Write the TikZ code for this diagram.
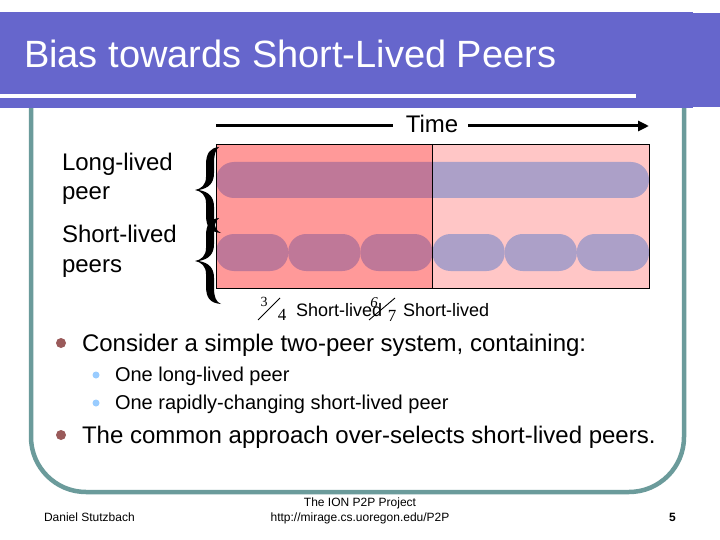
\documentclass[tikz,border=0pt]{standalone}
\usepackage{fontspec}
\setmainfont{Liberation Sans}
\newfontfamily\serifnum{Liberation Serif}
\usetikzlibrary{arrows.meta}
\definecolor{titleblue}{HTML}{6666CC}
\definecolor{framecol}{HTML}{6B9B9B}
\definecolor{pinkL}{HTML}{FF9999}
\definecolor{pinkR}{HTML}{FFC6C6}
\definecolor{barL}{HTML}{BF7898}
\definecolor{barR}{HTML}{ACA0C8}
\definecolor{bulletA}{HTML}{9A5A5A}
\definecolor{bulletB}{HTML}{99CCFF}
\tikzset{
  fs/.style={font=\fontsize{#1}{#1}\selectfont},
  bigbrace/.pic={
    \fill (24,0) .. controls (15,1) and (11,6) .. (11,18) -- (11,30)
      .. controls (11,38) and (6,42) .. (0,43)
      .. controls (6,44) and (11,48) .. (11,56) -- (11,68)
      .. controls (11,80) and (15,85) .. (26,86)
      .. controls (21,84) and (19,79) .. (19,70) -- (19,60)
      .. controls (19,50) and (14,45) .. (4,43)
      .. controls (14,41) and (19,36) .. (19,26) -- (19,16)
      .. controls (19,7) and (21,2) .. (24,0) -- cycle;
  },
  capsule/.style={rounded corners=18pt},
  bigdot/.style={fill=bulletA},
  smalldot/.style={fill=bulletB},
}
\begin{document}
\begin{tikzpicture}[x=1pt,y=-1pt, every node/.style={inner sep=0pt, outer sep=0pt}]
\useasboundingbox (0,0) rectangle (720,540);
\fill[white] (0,0) rectangle (720,540);
% frame
\draw[framecol, line width=4.5pt, rounded corners=55pt] (31,100) -- (31,492) -- (684,492) -- (684,100);
% title bar
\fill[titleblue] (0,12) rectangle (693,108);
\fill[titleblue] (693,13) rectangle (720,107);
\fill[white] (0,94) rectangle (636,98);
\node[anchor=base west, text=white, fs=38] (title) at (24,68) {Bias towards Short-Lived Peers};
% time arrow
\node[anchor=base, fs=24] (time) at (432,133) {Time};
\coordinate (ts) at (216,126);
\coordinate (tl) at (393,126);
\coordinate (tr) at (468,126);
\coordinate (te) at (649,126);
\draw[line width=3pt] (ts) -- (tl);
\draw[line width=3pt, -{Triangle[length=11pt,width=10pt]}] (tr) -- (te);
% rectangle background
\fill[pinkL] (216,144) rectangle (432,288);
\fill[pinkR] (432,144) rectangle (649,288);
\begin{scope}
  \clip (216,144) rectangle (432,288);
  \fill[barL, capsule] (216,162) rectangle (649,198);
  \foreach \i in {0,...,5} {
    \fill[barL, capsule] ({216+72.17*\i},234) rectangle ({216+72.17*(\i+1)},271);
  }
\end{scope}
\begin{scope}
  \clip (432,144) rectangle (649,288);
  \fill[barR, capsule] (216,162) rectangle (649,198);
  \foreach \i in {0,...,5} {
    \fill[barR, capsule] ({216+72.17*\i},234) rectangle ({216+72.17*(\i+1)},271);
  }
\end{scope}
\draw[line width=0.9pt] (216,144) rectangle (649,288);
\draw[line width=0.9pt] (432,144) -- (432,288);
% braces
\pic at (195,147) {bigbrace};
\pic at (195,218) {bigbrace};
% left labels
\node[anchor=base west, fs=24] (ll1) at (62,171) {Long-lived};
\node[anchor=base west, fs=24] (ll2) at (62,200) {peer};
\node[anchor=base west, fs=24] (sl1) at (62,243) {Short-lived};
\node[anchor=base west, fs=24] (sl2) at (62,272) {peers};
% fractions
\node[anchor=base, font=\serifnum\fontsize{14}{14}\selectfont] (n1) at (264,306) {3};
\node[anchor=base, font=\serifnum\fontsize{17}{17}\selectfont] (d1) at (282,320) {4};
\draw[line width=0.9pt] (258,320) -- (280,298);
\node[anchor=base, font=\serifnum\itshape\fontsize{15}{15}\selectfont] (n2) at (374,307) {6};
\node[anchor=base, font=\serifnum\fontsize{17}{17}\selectfont] (d2) at (392,321) {7};
\draw[line width=0.9pt] (369,320) -- (395,298);
\node[anchor=base west, fs=18] (sh1) at (296,316) {Short-lived};
\node[anchor=base west, fs=18] (sh2) at (403,316) {Short-lived};
% bullets
\fill[bigdot] (61,343) circle (5);
\node[anchor=base west, fs=24] (b1) at (82,351) {Consider a simple two-peer system, containing:};
\fill[smalldot] (96,375) circle (3.5);
\node[anchor=base west, fs=20] (b2) at (115,381) {One long-lived peer};
\fill[smalldot] (96,403) circle (3.5);
\node[anchor=base west, fs=20] (b3) at (115,409) {One rapidly-changing short-lived peer};
\fill[bigdot] (61,435) circle (5);
\node[anchor=base west, fs=24] (b4) at (82,443) {The common approach over-selects short-lived peers.};
% footer
\node[anchor=base west, fs=12] (auth) at (44,521) {Daniel Stutzbach};
\node[anchor=base, fs=12] (proj) at (360,506) {The ION P2P Project};
\node[anchor=base, fs=12] (url) at (360,521) {http://mirage.cs.uoregon.edu/P2P};
\node[anchor=base west, font=\bfseries\fontsize{12}{12}\selectfont] (pg) at (669,521) {5};
\end{tikzpicture}
\end{document}
